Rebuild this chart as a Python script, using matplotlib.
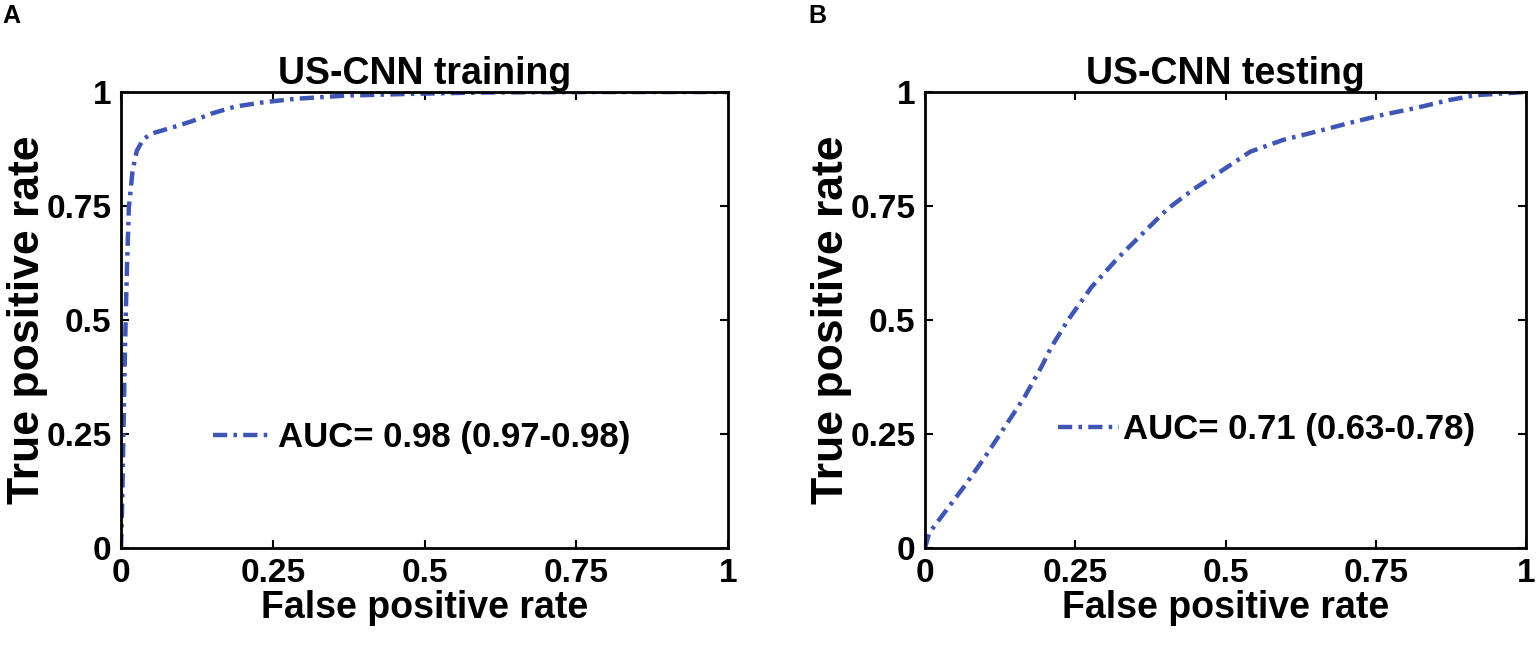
import matplotlib.pyplot as plt

plt.rcParams['font.family'] = ['Liberation Sans', 'DejaVu Sans']
plt.rcParams['font.weight'] = 'bold'

# ROC 曲线数据
train_fpr = [0, 0.002, 0.004, 0.006, 0.008, 0.010, 0.013, 0.019, 0.026, 0.037,
             0.051, 0.084, 0.117, 0.150, 0.188, 0.232, 0.287, 0.369, 0.48,
             0.6, 0.8, 1.0]
train_tpr = [0, 0.10, 0.25, 0.40, 0.52, 0.623, 0.747, 0.827, 0.871, 0.897,
             0.909, 0.922, 0.936, 0.953, 0.968, 0.977, 0.985, 0.992, 0.996,
             0.999, 1.0, 1.0]

test_fpr = [0, 0.007, 0.023, 0.067, 0.100, 0.133, 0.166, 0.194, 0.210, 0.238,
            0.277, 0.321, 0.370, 0.403, 0.447, 0.490, 0.541, 0.596, 0.651,
            0.706, 0.762, 0.817, 0.871, 0.916, 1.0]
test_tpr = [0, 0.033, 0.061, 0.138, 0.200, 0.266, 0.332, 0.398, 0.440, 0.500,
            0.572, 0.636, 0.700, 0.743, 0.787, 0.824, 0.869, 0.895, 0.913,
            0.932, 0.950, 0.965, 0.982, 0.993, 1.0]

titles = ['US-CNN training', 'US-CNN testing']
labels = ['AUC= 0.98 (0.97-0.98)', 'AUC= 0.71 (0.63-0.78)']
ticks = [0, 0.25, 0.5, 0.75, 1]
tick_labels = ['0', '0.25', '0.5', '0.75', '1']

color = '#3F56B5'
W, H = 1536, 647

fig = plt.figure(figsize=(W / 100, H / 100), dpi=100)
ax1 = fig.add_axes([121 / W, 1 - 548 / H, 607 / W, 456 / H])
ax2 = fig.add_axes([925 / W, 1 - 548 / H, 601 / W, 456 / H])

legend_pos = [(0.151, 0.243), (0.221, 0.26)]

for ax, fpr, tpr, title, lab, lp in zip([ax1, ax2], [train_fpr, test_fpr],
                                        [train_tpr, test_tpr], titles, labels, legend_pos):
    ax.plot(fpr, tpr, color=color, lw=3.2, dashes=(3.2, 1.4, 0.8, 1.4), label=lab)
    ax.set_xlim(0, 1)
    ax.set_ylim(0, 1)
    ax.set_xticks(ticks)
    ax.set_xticklabels(tick_labels)
    ax.set_yticks(ticks)
    ax.set_yticklabels(tick_labels)
    ax.tick_params(direction='in', top=True, right=True, length=6, width=1.5,
                   labelsize=24, pad=7)
    for sp in ax.spines.values():
        sp.set_linewidth(2)
    ax.set_title(title, fontsize=27, fontweight='bold', pad=6)
    ax.set_xlabel('False positive rate', fontsize=27, fontweight='bold', labelpad=1)
    ax.set_ylabel('True positive rate', fontsize=32, fontweight='bold', labelpad=-1)
    ax.legend(loc='center left', bbox_to_anchor=lp, frameon=False, fontsize=25,
              handlelength=1.75, handletextpad=0.12, borderaxespad=0, borderpad=0)

fig.text(2 / W, 1 - 16 / H, 'A', fontsize=18, fontweight='bold', va='center')
fig.text(808 / W, 1 - 16 / H, 'B', fontsize=18, fontweight='bold', va='center')

plt.savefig('out.png', dpi=100)
